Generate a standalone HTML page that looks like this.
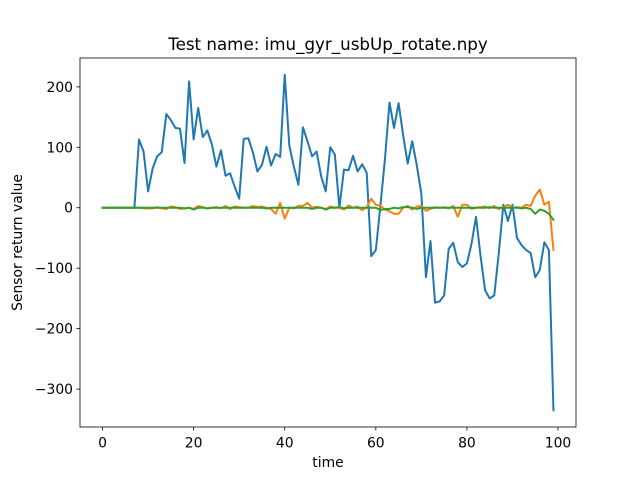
<!DOCTYPE html>
<html><head><meta charset="utf-8"><style>body{margin:0;background:#fff}svg{display:block;font-family:"DejaVu Sans","Liberation Sans",sans-serif}</style></head>
<body>
<svg id="chart" width="640" height="480"></svg>
<script>
const blueValues=[0,0,0,0,0,0,0,0,113,93,27,65,85,92,155,145,132,131,74,209,113,165,117,128,105,68,95,53,57,35,15,114,115,92,60,71,101,70,89,84,220,103,68,38,133,110,85,93,52,27,100,88,0,63,62,86,60,72,58,-80,-70,3,80,174,132,173,120,73,110,70,23,-115,-55,-157,-155,-145,-68,-58,-90,-98,-92,-60,-15,-80,-137,-150,-145,-75,5,-22,5,-50,-62,-70,-75,-115,-103,-57,-70,-335];
const orangeValues=[0,0,0,0,0,0,0,0,0,-1,-1,-1,1,-1,-2,2,1,-2,-1,0,-2,3,1,-1,0,1,-1,3,-2,2,1,0,0,3,1,2,0,-2,-10,8,-18,0,-1,3,3,8,0,2,0,-2,2,0,0,-3,4,0,2,-4,1,15,5,3,-3,-6,-10,-10,0,3,-3,2,3,-5,-2,1,0,1,-1,3,-15,5,5,-2,0,1,2,-1,3,-2,1,5,0,1,0,5,3,20,30,5,10,-70];
const greenValues=[0,0,0,0,0,0,0,0,0,0,0,0,0,0,0,0,0,0,-1,0,-3,0,0,-1,0,0,0,0,0,0,0,0,0,0,0,0,-1,0,0,0,0,0,0,0,0,0,-2,0,0,-3,0,0,1,-1,0,0,0,0,0,0,0,-4,-2,-2,0,-1,1,1,0,-2,0,0,0,0,0,0,0,0,0,0,0,0,0,0,0,1,0,0,0,0,0,0,-1,0,-2,-10,-3,-5,-10,-20];
const xTicks=[0,20,40,60,80,100];
const yTicks=[-300,-200,-100,0,100,200];
const L=80,R=576,T=58,B=427,xmin=-4.95,xmax=103.95,ymin=-362.75,ymax=247.75;
const sx=v=>L+(v-xmin)/(xmax-xmin)*(R-L);
const sy=v=>B-(v-ymin)/(ymax-ymin)*(B-T);
const svg=document.getElementById('chart');const NS='http://www.w3.org/2000/svg';
function mk(tag,attrs,parent){const e=document.createElementNS(NS,tag);for(const k in attrs)e.setAttribute(k,attrs[k]);(parent||svg).appendChild(e);return e;}
function series(vals,color,name){const p=mk('polyline',{points:vals.map((v,i)=>sx(i)+','+sy(v)).join(' '),fill:'none',stroke:color,'stroke-width':2,'stroke-linejoin':'round','stroke-linecap':'square'});

}
series(blueValues,'#1f77b4','blue-series');
series(orangeValues,'#ff7f0e','orange-series');
series(greenValues,'#2ca02c','green-series');
const frame=mk('rect',{x:L,y:T,width:R-L,height:B-T,fill:'none',stroke:'#000','stroke-width':0.8});


xTicks.forEach(t=>{const x=sx(t);mk('line',{x1:x,x2:x,y1:B,y2:B+3.5,stroke:'#000','stroke-width':0.8});
const tx=mk('text',{x:x,y:B+20.5,'text-anchor':'middle','font-size':13.9});tx.textContent=String(t).replace('-','\u2212');

});
yTicks.forEach(t=>{const y=sy(t);mk('line',{x1:L-3.5,x2:L,y1:y,y2:y,stroke:'#000','stroke-width':0.8});
const tx=mk('text',{x:L-7,y:y+5,'text-anchor':'end','font-size':13.9});tx.textContent=String(t).replace('-','\u2212');

});
const ti=mk('text',{x:(L+R)/2,y:50,'text-anchor':'middle','font-size':16.7});ti.textContent='Test name: imu_gyr_usbUp_rotate.npy';


const xl=mk('text',{x:(L+R)/2,y:467,'text-anchor':'middle','font-size':13.9});xl.textContent='time';


const yl=mk('text',{x:0,y:0,'text-anchor':'middle','font-size':13.9,transform:'translate(22,'+((T+B)/2)+') rotate(-90)'});yl.textContent='Sensor return value';


</script>
</body></html>
